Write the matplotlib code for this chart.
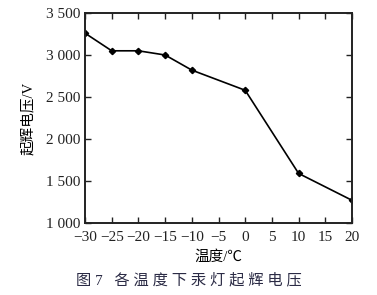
import matplotlib
matplotlib.use("Agg")
import matplotlib.pyplot as plt
from matplotlib.ticker import FuncFormatter

# temperature (C) and ignition voltage (V)
temp = [-30, -25, -20, -15, -10, 0, 10, 20]
volt = [3260, 3050, 3050, 3000, 2820, 2580, 1590, 1270]

x_ticks = [-30, -25, -20, -15, -10, -5, 0, 5, 10, 15, 20]
y_ticks = [1000, 1500, 2000, 2500, 3000, 3500]

fam = ['Liberation Serif', 'Noto Sans CJK SC']
plt.rcParams['font.family'] = fam
plt.rcParams['axes.unicode_minus'] = True

fig = plt.figure(figsize=(3.77, 2.95), dpi=100)
ax = fig.add_axes([0.2255, 0.2441, 0.7082, 0.7118])

ax.plot(temp, volt, color='black', lw=1.2, marker='D', markersize=3.2)

ax.set_xlim(-30, 20)
ax.set_ylim(1000, 3500)
ax.set_xticks(x_ticks)
ax.set_yticks(y_ticks)


def thou(v, pos):
    v = int(round(v))
    return '%d %03d' % (v // 1000, v % 1000)


ax.yaxis.set_major_formatter(FuncFormatter(thou))
ax.xaxis.set_major_formatter(FuncFormatter(lambda v, p: '%d' % v if v >= 0 else '\u2212%d' % -v))

ax.tick_params(direction='in', top=True, right=True, length=4.5, width=1,
               labelsize=11, colors='#222222')
ax.tick_params(axis='x', pad=6)
ax.tick_params(axis='y', pad=3)
for s in ax.spines.values():
    s.set_linewidth(1.4)
    s.set_color('#222222')

ax.set_xlabel('温度/℃', fontsize=10.5, labelpad=4, family=fam)
ax.set_ylabel('起辉电压/V', fontsize=10.5, labelpad=8, family=fam)

fig.text(0.5, 0.05, '图 7   各 温 度 下 汞 灯 起 辉 电 压', ha='center', va='center',
         fontsize=11, color='#2b2b45', family=fam)

fig.savefig('out.png', dpi=100)
